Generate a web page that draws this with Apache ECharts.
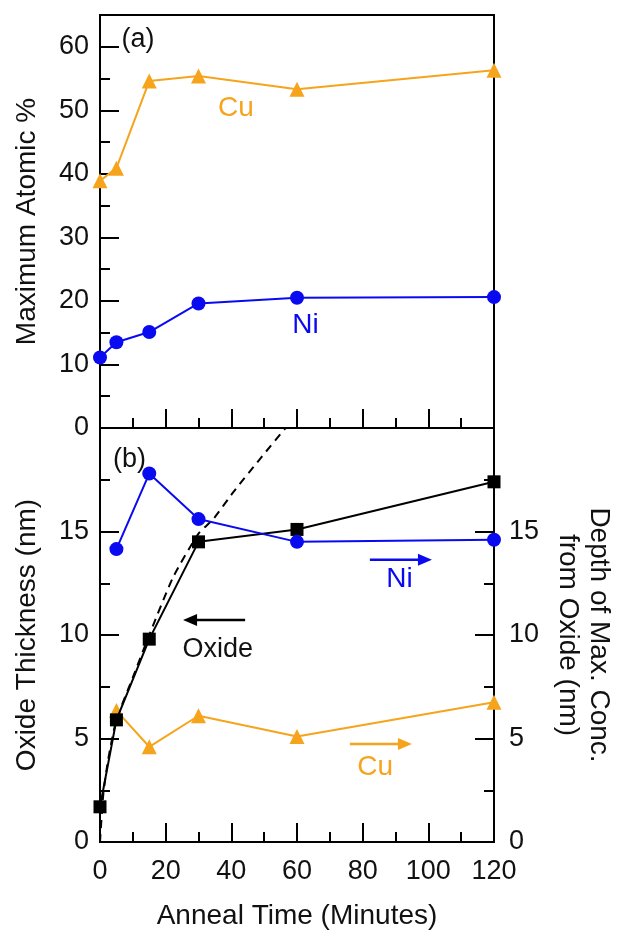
<!DOCTYPE html>
<html><head><meta charset="utf-8">
<script src="https://cdn.jsdelivr.net/npm/echarts@6/dist/echarts.min.js"></script>
<style>html,body{margin:0;padding:0;background:#fff}#c{width:617px;height:934px}</style>
</head><body><div id="c"></div><script>
// ---- data ----
const times = [0, 5, 15, 30, 60, 120];
const cuMaxAtomic = [38.9, 40.9, 54.6, 55.4, 53.3, 56.3];
const niMaxAtomic = [11.1, 13.5, 15.1, 19.6, 20.5, 20.6];
const oxideThickness = [1.7, 5.9, 9.8, 14.5, 15.1, 17.4];
const depthTimes = [5, 15, 30, 60, 120];
const niDepth = [14.15, 17.8, 15.6, 14.5, 14.6];
const cuDepth = [6.35, 4.6, 6.1, 5.1, 6.75];
const fitTimes = [0, 1, 2.5, 5, 10, 15, 22.3, 30, 34.5, 40.6, 48.7, 56.5];
const fitThickness = [0, 2.3, 4.0, 5.9, 7.95, 10.0, 12.8, 14.9, 15.6, 16.9, 18.5, 20.0];
const xTickLabels = ['0', '20', '40', '60', '80', '100', '120'];

const ORANGE = '#F5A41C', BLUE = '#0A0AF0', BLACK = '#000';
const FONT = 'Liberation Sans, Arial, sans-serif';
const pairs = (xs, ys) => xs.map((x, i) => [x, ys[i]]);

const chart = echarts.init(document.getElementById('c'), null, {renderer: 'canvas'});
const tickStyle = {color: BLACK, width: 2};
const lineAxis = {show: true, lineStyle: {color: BLACK, width: 2}};
const LBL = 27;

function xAx(grid, labels, extra) {
  return Object.assign({
    gridIndex: grid, type: 'value', min: 0, max: 120, interval: 20,
    axisLine: lineAxis,
    axisTick: {show: true, inside: true, length: 19, lineStyle: tickStyle},
    minorTick: {show: true, splitNumber: 2, length: 10, lineStyle: tickStyle},
    splitLine: {show: false}, minorSplitLine: {show: false},
    axisLabel: {show: labels, margin: 16, color: '#111', fontSize: LBL, fontFamily: FONT,
      formatter: v => xTickLabels.includes(String(v)) ? String(v) : ''}
  }, extra || {});
}

const option = {
  animation: false,
  backgroundColor: '#fff',
  grid: [
    {left: 100, top: 15, width: 394, height: 413, show: true, borderColor: BLACK, borderWidth: 2,
      backgroundColor: 'transparent', containLabel: false, outerBoundsMode: 'none'},
    {left: 100, top: 428, width: 394, height: 414, show: true, borderColor: BLACK, borderWidth: 2,
      backgroundColor: 'transparent', containLabel: false, outerBoundsMode: 'none'}
  ],
  xAxis: [
    xAx(0, false),
    xAx(1, true, {name: 'Anneal Time (Minutes)', nameLocation: 'middle', nameGap: 60,
      nameTextStyle: {fontSize: 28, fontFamily: FONT, color: '#111'}})
  ],
  yAxis: [
    { // top main
      gridIndex: 0, type: 'value', position: 'left', min: 0, max: 65, interval: 10,
      axisLine: lineAxis,
      axisTick: {show: true, inside: true, length: 19, lineStyle: tickStyle},
      splitLine: {show: false},
      axisLabel: {margin: 11, color: '#111', fontSize: LBL, fontFamily: FONT, showMaxLabel: false},
      name: 'Maximum Atomic %', nameLocation: 'middle', nameGap: 59,
      nameTextStyle: {fontSize: 28, fontFamily: FONT, color: '#111'}
    },
    { // top minor ticks overlay
      gridIndex: 0, type: 'value', position: 'left', offset: 0, min: 0, max: 65, interval: 5,
      axisLine: {show: false},
      axisTick: {show: true, inside: true, length: 10, lineStyle: tickStyle},
      splitLine: {show: false}, axisLabel: {show: false}
    },
    { // bottom left
      gridIndex: 1, type: 'value', position: 'left', min: 0, max: 20, interval: 5,
      axisLine: lineAxis,
      axisTick: {show: true, inside: true, length: 19, lineStyle: tickStyle},
      minorTick: {show: true, splitNumber: 2, length: 10, lineStyle: tickStyle},
      splitLine: {show: false},
      axisLabel: {margin: 11, color: '#111', fontSize: LBL, fontFamily: FONT, showMaxLabel: false},
      name: 'Oxide Thickness (nm)', nameLocation: 'middle', nameGap: 59,
      nameTextStyle: {fontSize: 28, fontFamily: FONT, color: '#111'}
    },
    { // bottom right
      gridIndex: 1, type: 'value', position: 'right', min: 0, max: 20, interval: 5,
      axisLine: lineAxis,
      axisTick: {show: true, inside: true, length: 19, lineStyle: tickStyle},
      minorTick: {show: true, splitNumber: 2, length: 10, lineStyle: tickStyle},
      splitLine: {show: false},
      axisLabel: {margin: 15, color: '#111', fontSize: LBL, fontFamily: FONT, showMaxLabel: false},
      name: 'Depth of Max. Conc.\nfrom Oxide (nm)', nameLocation: 'middle', nameGap: 58, nameRotate: -90,
      nameTextStyle: {fontSize: 28, fontFamily: FONT, color: '#111', lineHeight: 31}
    }
  ],
  series: [
    {name: 'Cu max', type: 'line', xAxisIndex: 0, yAxisIndex: 0, data: pairs(times, cuMaxAtomic),
      symbol: 'triangle', symbolSize: 15, lineStyle: {color: ORANGE, width: 2}, itemStyle: {color: ORANGE}, z: 3},
    {name: 'Ni max', type: 'line', xAxisIndex: 0, yAxisIndex: 0, data: pairs(times, niMaxAtomic),
      symbol: 'circle', symbolSize: 14, lineStyle: {color: BLUE, width: 2}, itemStyle: {color: BLUE}, z: 3},
    {name: 'Fit', type: 'line', xAxisIndex: 1, yAxisIndex: 2, data: pairs(fitTimes, fitThickness),
      symbol: 'none', smooth: 0.2, lineStyle: {color: BLACK, width: 2, type: [8, 6]}, z: 1},
    {name: 'Cu depth', type: 'line', xAxisIndex: 1, yAxisIndex: 3, data: pairs(depthTimes, cuDepth),
      symbol: 'triangle', symbolSize: 15, lineStyle: {color: ORANGE, width: 2}, itemStyle: {color: ORANGE}, z: 2},
    {name: 'Ni depth', type: 'line', xAxisIndex: 1, yAxisIndex: 3, data: pairs(depthTimes, niDepth),
      symbol: 'circle', symbolSize: 14, lineStyle: {color: BLUE, width: 2}, itemStyle: {color: BLUE}, z: 4},
    {name: 'Oxide', type: 'line', xAxisIndex: 1, yAxisIndex: 2, data: pairs(times, oxideThickness),
      symbol: 'rect', symbolSize: 13, lineStyle: {color: BLACK, width: 2}, itemStyle: {color: BLACK}, z: 3}
  ]
};
chart.setOption(option);

// ---- annotations (placed in data coordinates) ----
const notes = [
  {text: '(a)', at: [11.6, 61.1], top: true, color: '#111', size: 27},
  {text: 'Cu', at: [41.4, 50.3], top: true, color: ORANGE, size: 28},
  {text: 'Ni', at: [62.6, 16.2], top: true, color: BLUE, size: 28},
  {text: '(b)', at: [9.0, 18.5], top: false, color: '#111', size: 27},
  {text: 'Oxide', at: [35.9, 9.32], top: false, color: '#111', size: 27},
  {text: 'Ni', at: [91.2, 12.71], top: false, color: BLUE, size: 28},
  {text: 'Cu', at: [83.8, 3.61], top: false, color: ORANGE, size: 28}
];
const arrows = [
  {from: [44.2, 10.73], to: [25.3, 10.73], color: BLACK},
  {from: [82.2, 13.63], to: [101.1, 13.63], color: BLUE},
  {from: [76.1, 4.73], to: [95.0, 4.73], color: ORANGE}
];
const toPx = (p, top) => chart.convertToPixel(top ? {xAxisIndex: 0, yAxisIndex: 0} : {xAxisIndex: 1, yAxisIndex: 2}, p);
const elements = [];
notes.forEach(n => {
  const [x, y] = toPx(n.at, n.top);
  elements.push({type: 'text', z: 10, style: {text: n.text, x, y, fill: n.color, fontSize: n.size, fontFamily: FONT, align: 'center', verticalAlign: 'middle'}});
});
arrows.forEach(a => {
  const p0 = toPx(a.from, false), p1 = toPx(a.to, false);
  const dir = Math.sign(p1[0] - p0[0]);
  const hl = 14, hw = 6;
  elements.push({type: 'line', z: 10, shape: {x1: p0[0], y1: p0[1], x2: p1[0] - dir * hl * 0.8, y2: p1[1]}, style: {stroke: a.color, lineWidth: 2.5}});
  elements.push({type: 'polygon', z: 10, shape: {points: [[p1[0], p1[1]], [p1[0] - dir * hl, p1[1] - hw], [p1[0] - dir * hl, p1[1] + hw]]}, style: {fill: a.color}});
});
chart.setOption({graphic: elements});
</script></body></html>
